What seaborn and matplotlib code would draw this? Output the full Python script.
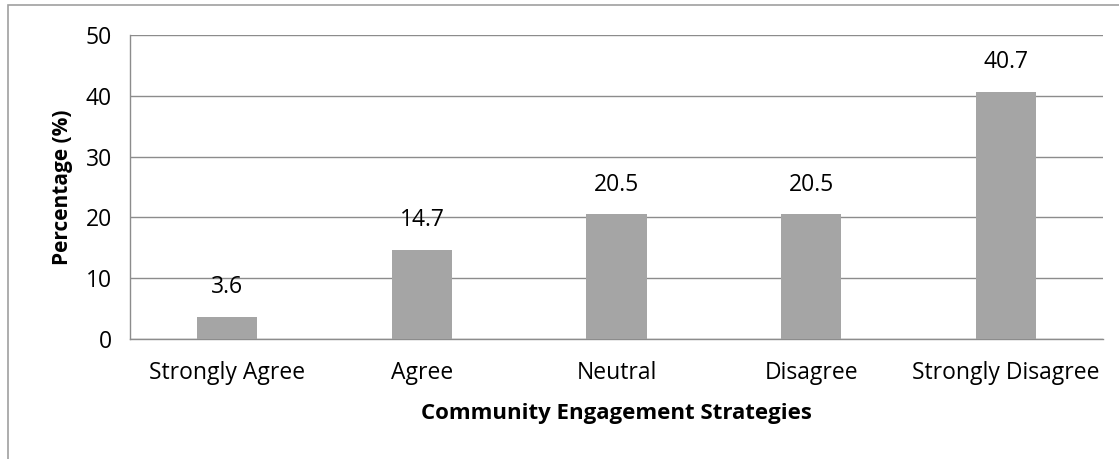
import matplotlib
matplotlib.use("Agg")
import matplotlib.pyplot as plt
import seaborn as sns
import pandas as pd
from matplotlib.patches import Rectangle

categories = ["Strongly Agree", "Agree", "Neutral", "Disagree", "Strongly Disagree"]
values = [3.6, 14.7, 20.5, 20.5, 40.7]
yticks = [0, 10, 20, 30, 40, 50]

sns.set_theme(style="white")
plt.rcParams['font.family'] = ['Open Sans', 'DejaVu Sans']
plt.rcParams['text.color'] = 'black'

df = pd.DataFrame({"cat": categories, "val": values})

fig = plt.figure(figsize=(11.19, 4.59), dpi=100)
ax = fig.add_axes([130/1119, 1 - 339/459, (1103-130)/1119, (339-35)/459])

sns.barplot(data=df, x="cat", y="val", color="#A5A5A5", saturation=1, width=0.31,
            linewidth=0, ax=ax, zorder=3)

ax.set_ylim(0, 50)
ax.set_yticks(yticks)
ax.set_xlim(-0.5, len(categories) - 0.5)
ax.yaxis.grid(True, color="#8C8C8C", linewidth=1.0, zorder=0)
ax.xaxis.grid(False)
for s in ["top", "right"]:
    ax.spines[s].set_visible(False)
for s in ["left", "bottom"]:
    ax.spines[s].set_visible(True)
    ax.spines[s].set_color("#8C8C8C")
    ax.spines[s].set_linewidth(1.0)
ax.tick_params(axis="both", length=0, labelsize=16.5, colors="black")
ax.tick_params(axis="x", pad=16)
ax.tick_params(axis="y", pad=13)

for i, v in enumerate(values):
    ax.text(i, v + 2.9, f"{v}", ha="center", va="bottom", fontsize=16.5, color="black")

ax.set_xlabel("Community Engagement Strategies", fontsize=16, fontweight="bold",
              labelpad=13, color="black")
ax.set_ylabel("Percentage (%)", fontsize=15, fontweight="bold", labelpad=9, color="black")

fig.patches.append(Rectangle((8/1119, -0.1), 1.2, 1 - 5/459 + 0.1, transform=fig.transFigure,
                             fill=False, edgecolor="#A0A0A0", linewidth=1.2))

fig.savefig("out.png", dpi=100)
